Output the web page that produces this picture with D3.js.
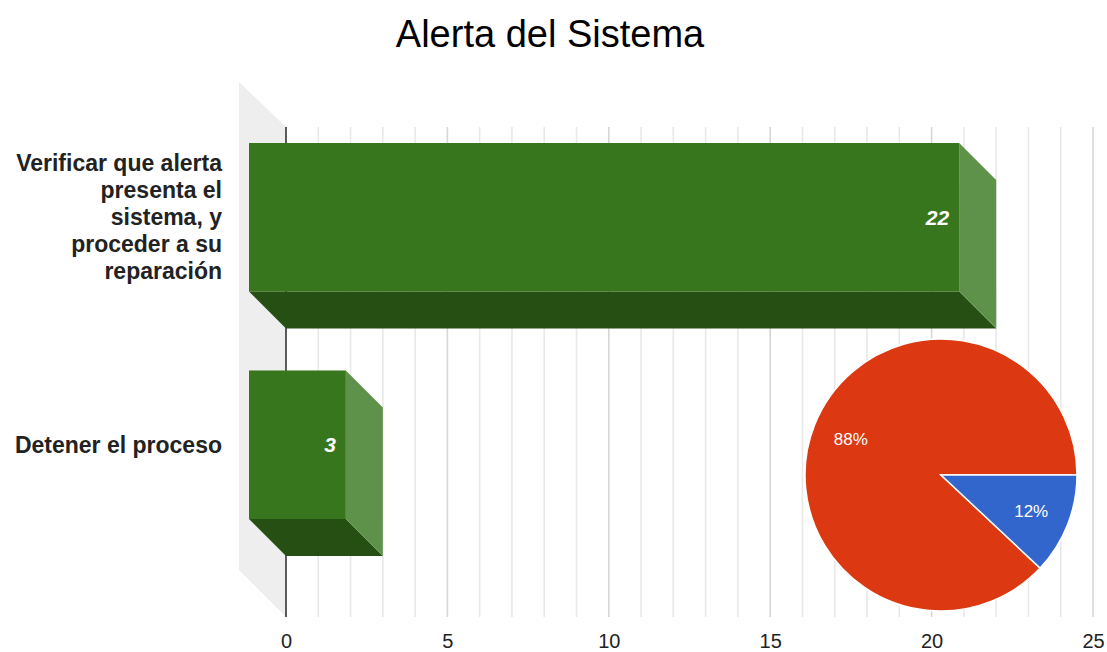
<!DOCTYPE html>
<html>
<head>
<meta charset="utf-8">
<script src="https://cdn.jsdelivr.net/npm/d3@7"></script>
<style>
  html, body { margin: 0; padding: 0; background: #fff; }
  svg { display: block; font-family: Arial, "Liberation Sans", sans-serif; }
</style>
</head>
<body>
<svg id="chart" width="1107" height="652"></svg>
<script>
// Responses to the system alert
const categories = [
  "Verificar que alerta presenta el sistema, y proceder a su reparación",
  "Detener el proceso"
];
const counts = [22, 3];
const xTicks = [0, 5, 10, 15, 20, 25];
const pieColors = ["#dc3912", "#3366cc"];
const title = "Alerta del Sistema";

const svg = d3.select("#chart");

// back plane of the 3D plot
const x = d3.scaleLinear().domain([0, 25]).range([286, 1093]);
const plotTop = 127, plotBottom = 617;
const y = d3.scaleBand().domain(categories).range([127, 609])
  .paddingInner(0.347).paddingOuter(0.233);
const dx = 37, dy = 37;     // depth offset of the front face

// title
svg.append("text")
  .attr("x", 550).attr("y", 47)
  .attr("text-anchor", "middle")
  .attr("font-size", 38)
  .attr("fill", "#000")
  .text(title);

// side wall
svg.append("path")
  .attr("d", `M239,82 L${x(0)},${plotTop} L${x(0)},${plotBottom} L239,570 Z`)
  .attr("fill", "#eeeeee");

// vertical gridlines
const minor = d3.range(1, 26);
svg.append("g").selectAll("line").data(minor).join("line")
  .attr("x1", d => x(d)).attr("x2", d => x(d))
  .attr("y1", plotTop).attr("y2", plotBottom)
  .attr("stroke", d => d % 5 === 0 ? "#d6d6d6" : "#e8e8e8")
  .attr("stroke-width", 1.6);

// zero line
svg.append("line")
  .attr("x1", x(0)).attr("x2", x(0))
  .attr("y1", plotTop).attr("y2", plotBottom)
  .attr("stroke", "#333").attr("stroke-width", 1.6);

// bottom axis labels
const xAxis = d3.axisBottom(x).tickValues(xTicks).tickSize(0).tickPadding(0);
const gx = svg.append("g").attr("transform", `translate(0,${plotBottom + 31})`).call(xAxis);
gx.select(".domain").remove();
gx.selectAll("text")
  .attr("font-size", 20)
  .attr("font-family", "Arial, 'Liberation Sans', sans-serif")
  .attr("fill", "#222")
  .attr("dy", 0);

// 3D bars
const bars = svg.append("g").selectAll("g").data(categories.map((c, i) => ({ c, v: counts[i] }))).join("g");
// bottom face
bars.append("path")
  .attr("d", d => {
    const y0 = y(d.c) + y.bandwidth();
    return `M${x(0) - dx},${y0 - dy} L${x(d.v) - dx},${y0 - dy} L${x(d.v)},${y0} L${x(0)},${y0} Z`;
  })
  .attr("fill", "#264f14");
// right side face
bars.append("path")
  .attr("d", d => {
    const y0 = y(d.c), y1 = y0 + y.bandwidth(), xv = x(d.v);
    return `M${xv - dx},${y0 - dy} L${xv},${y0} L${xv},${y1} L${xv - dx},${y1 - dy} Z`;
  })
  .attr("fill", "#5e9149");
// front face
bars.append("rect")
  .attr("x", x(0) - dx)
  .attr("y", d => y(d.c) - dy)
  .attr("width", d => x(d.v) - x(0))
  .attr("height", y.bandwidth())
  .attr("fill", "#38761d");
// value labels
bars.append("text")
  .attr("x", d => x(d.v) - dx - 10)
  .attr("y", d => y(d.c) - dy + y.bandwidth() / 2)
  .attr("dy", "0.35em")
  .attr("text-anchor", "end")
  .attr("font-size", 21)
  .attr("font-weight", "bold")
  .attr("font-style", "italic")
  .attr("fill", "#fff")
  .text(d => d.v);

// category labels, wrapped to fit the left margin
const labelX = 222, lineH = 27, maxW = 214;
svg.append("g").selectAll("text").data(categories).join("text")
  .attr("x", labelX)
  .attr("text-anchor", "end")
  .attr("font-size", 23)
  .attr("font-weight", "bold")
  .attr("fill", "#222")
  .each(function (c) {
    const t = d3.select(this);
    const words = c.split(" ");
    const lines = [];
    let cur = [];
    const probe = t.append("tspan");
    words.forEach(w => {
      const test = cur.concat(w).join(" ");
      probe.text(test);
      if (cur.length && probe.node().getComputedTextLength() > maxW) {
        lines.push(cur.join(" "));
        cur = [w];
      } else cur.push(w);
    });
    lines.push(cur.join(" "));
    probe.remove();
    const cy = y(c) - dy + y.bandwidth() / 2;
    const start = cy - (lines.length - 1) * lineH / 2;
    lines.forEach((ln, i) => {
      t.append("tspan").attr("x", labelX).attr("y", start + i * lineH).attr("dy", "0.35em").text(ln);
    });
  });

// share pie
const total = d3.sum(counts);
const a0 = Math.PI / 2 + 2 * Math.PI * counts[1] / total;
const pie = d3.pie().sort(null).startAngle(a0).endAngle(a0 + 2 * Math.PI);
const r = 136;
const arc = d3.arc().innerRadius(0).outerRadius(r);
const labelArc = d3.arc().innerRadius(97).outerRadius(97);
const pg = svg.append("g").attr("transform", "translate(941,475)");
const slices = pie(counts);
pg.selectAll("path").data(slices).join("path")
  .attr("d", arc)
  .attr("fill", (d, i) => pieColors[i])
  .attr("stroke", "#fff")
  .attr("stroke-width", 1.5);
pg.selectAll("text").data(slices).join("text")
  .attr("transform", d => `translate(${labelArc.centroid(d)})`)
  .attr("text-anchor", "middle")
  .attr("dy", "0.35em")
  .attr("font-size", 17)
  .attr("fill", "#fff")
  .text(d => Math.round(d.value / total * 100) + "%");
</script>
</body>
</html>
